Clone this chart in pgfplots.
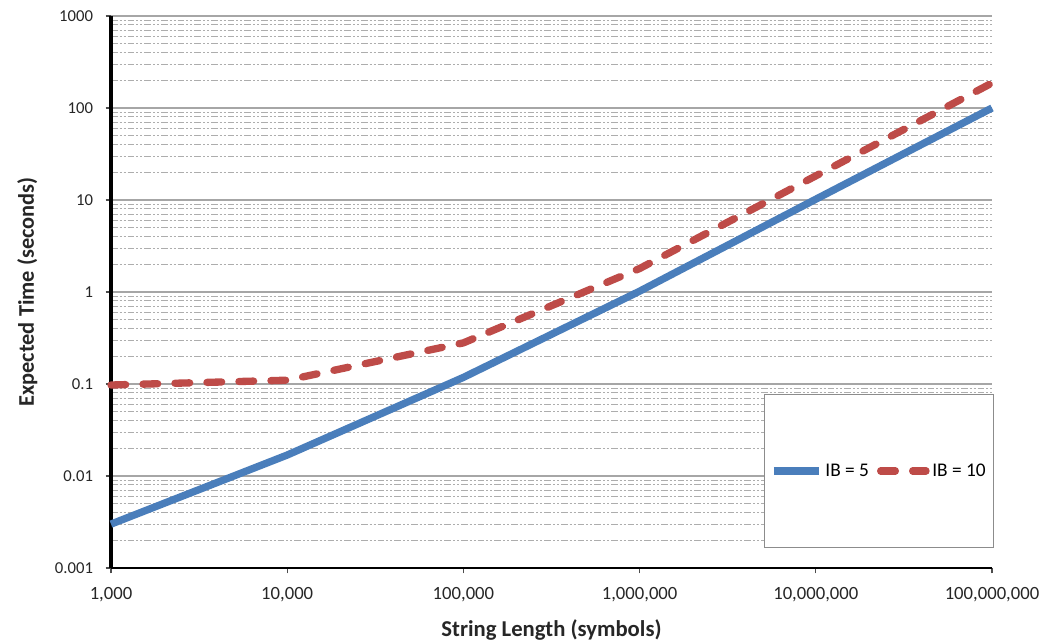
\documentclass[border=0pt]{standalone}
\usepackage{pgfplots}
\pgfplotsset{compat=1.18}
\usepackage{fontspec}
\setmainfont{Carlito}
\definecolor{exblue}{HTML}{4A7EBB}
\definecolor{exred}{HTML}{BE4B48}
\begin{document}
\begin{tikzpicture}
\useasboundingbox (-83.25pt,-56.25pt) rectangle (698.25pt,426pt);
\begin{axis}[
  at={(0pt,0pt)}, anchor=south west,
  scale only axis, width=660.75pt, height=414pt,
  xmode=log, ymode=log,
  xmin=1000, xmax=1e8, ymin=0.001, ymax=1000,
  axis x line=bottom, axis y line=left, axis line style={-},
  x axis line style={line width=1.6pt, black},
  y axis line style={line width=2.4pt, black},
  xtick={1e3,1e4,1e5,1e6,1e7,1e8},
  xticklabels={{1,000},{10,000},{100,000},{1,000,000},{10,000,000},{100,000,000}},
  ytick={1e-3,1e-2,1e-1,1,10,100,1000},
  yticklabels={0.001,0.01,0.1,1,10,100,1000},
  minor xtick={},
  minor ytick={0.002,0.003,0.004,0.005,0.006,0.007,0.008,0.009,
               0.02,0.03,0.04,0.05,0.06,0.07,0.08,0.09,
               0.2,0.3,0.4,0.5,0.6,0.7,0.8,0.9,
               2,3,4,5,6,7,8,9,20,30,40,50,60,70,80,90,
               200,300,400,500,600,700,800,900},
  tick align=outside, major tick length=4pt, minor tick length=0pt,
  tick style={black!70, line width=0.8pt},
  ymajorgrids, yminorgrids, xmajorgrids=false,
  major grid style={black!35, line width=1.4pt},
  minor grid style={black!32, line width=0.8pt, dash pattern=on 5pt off 1.5pt on 1.5pt off 1.5pt on 1.5pt off 1.5pt},
  xticklabel style={font=\fontsize{14}{16}\selectfont, text=black!85, yshift=-7pt},
  yticklabel style={font=\fontsize{12.5}{15}\selectfont, text=black!85, xshift=-6pt},
  xlabel={String Length (symbols)},
  ylabel={Expected Time (seconds)},
  xlabel style={font=\bfseries\fontsize{17}{20}\selectfont, text=black!85, at={(axis description cs:0.5,-0.112)}, anchor=center},
  ylabel style={font=\bfseries\fontsize{16.8}{20}\selectfont, text=black!85, at={(axis description cs:-0.095,0.5)}, anchor=center},
  clip=false,
  legend columns=2,
  legend style={at={(axis description cs:0.872,0.176)}, anchor=center,
    draw=black!45, line width=1pt, fill=white,
    inner xsep=4pt, inner ysep=50pt,
    font=\fontsize{14.5}{16}\selectfont,
    /tikz/every even column/.append style={column sep=4pt}},
  legend cell align=left,
  legend image code/.code={\draw[#1] (0pt,0pt) -- (34pt,0pt);},
]
\addplot[exblue, line width=5.5pt, line join=round] coordinates {
  (1000,0.0030) (10000,0.0169) (100000,0.118) (1000000,1.02) (10000000,10.2) (100000000,100)
};
\addlegendentry{IB = 5}
\addplot[exred, line width=5.5pt, line cap=round, line join=round, dash pattern=on 11pt off 13pt] coordinates {
  (1000,0.0975) (10000,0.11) (100000,0.28) (1000000,1.8) (10000000,18.3) (100000000,187)
};
\addlegendentry{IB = 10}
\end{axis}
\end{tikzpicture}
\end{document}
